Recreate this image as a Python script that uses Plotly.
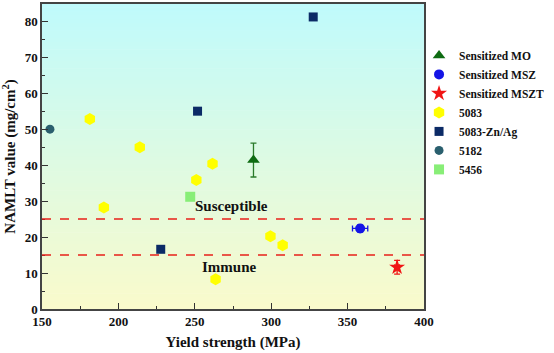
import plotly.graph_objects as go
import numpy as np

# Data
mo_x, mo_y, mo_err = [288.4], [41.4], [4.7]
msz_x, msz_y, msz_xerr, msz_yerr = [358.2], [22.4], [5.0], [1.0]
mszt_x, mszt_y, mszt_xerr, mszt_yerr = [382.4], [11.6], [1.5], [1.9]
a5083_x = [181.3, 214.0, 190.5, 251.0, 261.6, 263.6, 299.5, 307.5]
a5083_y = [52.8, 45.0, 28.2, 35.9, 40.4, 8.3, 20.2, 17.7]
znag_x = [251.8, 327.5, 227.7]
znag_y = [55.0, 81.2, 16.6]
a5182_x, a5182_y = [155.2], [50.0]
a5456_x, a5456_y = [247.0], [31.2]
thresholds = [25, 15]
x_ticks = [150, 200, 250, 300, 350, 400]
y_ticks = [0, 10, 20, 30, 40, 50, 60, 70, 80]

FONT = "Liberation Serif"

fig = go.Figure()

fig.add_trace(go.Scatter(x=mo_x, y=mo_y, mode="markers", name="<b>Sensitized MO</b>",
    marker=dict(symbol="triangle-up", size=11, color="#0e6b12"),
    error_y=dict(type="data", array=mo_err, color="#2a7a2a", thickness=1.3, width=3)))
fig.add_trace(go.Scatter(x=msz_x, y=msz_y, mode="markers", name="<b>Sensitized MSZ</b>",
    marker=dict(symbol="circle", size=10, color="#1414e6"),
    error_x=dict(type="data", array=msz_xerr, color="#1414e6", thickness=1.3, width=3),
    error_y=dict(type="data", array=msz_yerr, color="#1414e6", thickness=1.3, width=3)))
fig.add_trace(go.Scatter(x=mszt_x, y=mszt_y, mode="markers", name="<b>Sensitized MSZT</b>",
    marker=dict(symbol="star", size=12, color="#f01414"),
    error_x=dict(type="data", array=mszt_xerr, color="#f01414", thickness=1.3, width=3),
    error_y=dict(type="data", array=mszt_yerr, color="#f01414", thickness=1.3, width=3)))
fig.add_trace(go.Scatter(x=a5083_x, y=a5083_y, mode="markers", name="<b>5083</b>",
    marker=dict(symbol="hexagon", size=12, color="#ffff00")))
fig.add_trace(go.Scatter(x=znag_x, y=znag_y, mode="markers", name="<b>5083-Zn/Ag</b>",
    marker=dict(symbol="square", size=9, color="#0b2a66")))
fig.add_trace(go.Scatter(x=a5182_x, y=a5182_y, mode="markers", name="<b>5182</b>",
    marker=dict(symbol="circle", size=9, color="#2a5f6e")))
fig.add_trace(go.Scatter(x=a5456_x, y=a5456_y, mode="markers", name="<b>5456</b>",
    marker=dict(symbol="square", size=10, color="#88ee77")))

shapes = []
n = 80
top = np.array([192, 250, 252])
bot = np.array([250, 250, 204])
for i in range(n):
    t = i / (n - 1)
    c = bot + (top - bot) * t
    shapes.append(dict(type="rect", xref="x domain", yref="y domain",
                       x0=0, x1=1, y0=i / n, y1=(i + 1) / n + 0.002,
                       fillcolor="rgb(%d,%d,%d)" % tuple(c), line=dict(width=0), layer="below"))
for th in thresholds:
    shapes.append(dict(type="line", xref="x domain", yref="y", x0=0, x1=1, y0=th, y1=th,
                       line=dict(color="#e8201a", width=1.5, dash="dash")))

fig.update_layout(
    width=554, height=353,
    margin=dict(l=42, r=130, t=2, b=44),
    paper_bgcolor="white",
    plot_bgcolor="white",
    shapes=shapes,
    font=dict(family=FONT, color="#111111"),
    showlegend=True,
    legend=dict(xref="paper", yref="paper", x=0.987, y=0.879, xanchor="left", yanchor="top",
                font=dict(family=FONT, size=11.5, color="#111111"),
                bgcolor="rgba(0,0,0,0)", tracegroupgap=0, itemsizing="trace", itemwidth=30),
    annotations=[
        dict(x=274, y=28.5, xref="x", yref="y", text="<b>Susceptible</b>", showarrow=False,
             font=dict(family=FONT, size=15, color="#111111")),
        dict(x=273, y=11.6, xref="x", yref="y", text="<b>Immune</b>", showarrow=False,
             font=dict(family=FONT, size=15, color="#111111")),
    ],
)

fig.update_xaxes(range=[150, 400], tickvals=x_ticks, ticktext=["<b>%d</b>" % v for v in x_ticks],
                 ticks="inside", ticklen=6, tickwidth=1.2, tickcolor="#333",
                 minor=dict(dtick=25, ticks="inside", ticklen=3, tickcolor="#333"),
                 showline=True, linecolor="#444", linewidth=1.5, mirror=True, showgrid=False,
                 zeroline=False, tickfont=dict(family=FONT, size=13),
                 title=dict(text="<b>Yield strength (MPa)</b>", font=dict(family=FONT, size=15), standoff=8))
fig.update_yaxes(range=[0, 84.8], tickvals=y_ticks, ticktext=["<b>%d</b>" % v for v in y_ticks],
                 ticks="inside", ticklen=6, tickwidth=1.2, tickcolor="#333",
                 minor=dict(dtick=5, ticks="inside", ticklen=3, tickcolor="#333"),
                 showline=True, linecolor="#444", linewidth=1.5, mirror=True, showgrid=False,
                 zeroline=False, tickfont=dict(family=FONT, size=13),
                 title=dict(text="<b>NAMLT value (mg/cm<sup>2</sup>)</b>", font=dict(family=FONT, size=15), standoff=6))

fig.write_html("out.html")
